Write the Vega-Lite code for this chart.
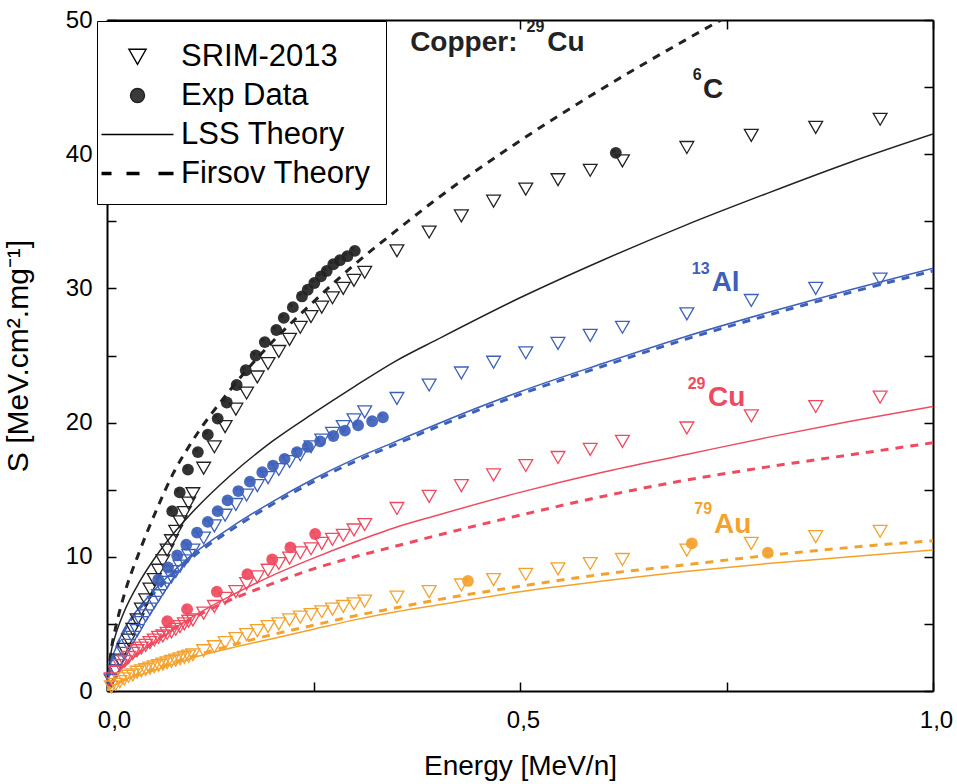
{
  "$schema": "https://vega.github.io/schema/vega-lite/v6.json",
  "width": 826,
  "height": 671,
  "autosize": {"type": "none"},
  "padding": {"left": 107, "top": 20, "right": 24, "bottom": 93},
  "background": "white",
  "datasets": {
    "srim": [
      {"ion":"C","x":0.0052,"y":0.8},{"ion":"C","x":0.0104,"y":1.5},{"ion":"C","x":0.0156,"y":2.3},{"ion":"C","x":0.0208,"y":3.1},{"ion":"C","x":0.026,"y":3.8},{"ion":"C","x":0.0312,"y":4.6},{"ion":"C","x":0.0364,"y":5.3},{"ion":"C","x":0.0416,"y":6.1},{"ion":"C","x":0.0468,"y":6.8},{"ion":"C","x":0.052,"y":7.6},
      {"ion":"C","x":0.0572,"y":8.3},{"ion":"C","x":0.0624,"y":9.0},{"ion":"C","x":0.0676,"y":9.7},{"ion":"C","x":0.0728,"y":10.5},{"ion":"C","x":0.078,"y":11.2},{"ion":"C","x":0.0832,"y":11.9},{"ion":"C","x":0.0884,"y":12.6},{"ion":"C","x":0.0936,"y":13.3},{"ion":"C","x":0.0988,"y":14.0},{"ion":"C","x":0.104,"y":14.7},
      {"ion":"C","x":0.117,"y":16.6},{"ion":"C","x":0.13,"y":18.2},{"ion":"C","x":0.143,"y":19.7},{"ion":"C","x":0.156,"y":21.0},{"ion":"C","x":0.169,"y":22.2},{"ion":"C","x":0.182,"y":23.4},{"ion":"C","x":0.195,"y":24.4},{"ion":"C","x":0.208,"y":25.3},{"ion":"C","x":0.221,"y":26.2},{"ion":"C","x":0.234,"y":27.1},{"ion":"C","x":0.247,"y":27.9},{"ion":"C","x":0.26,"y":28.6},{"ion":"C","x":0.273,"y":29.3},{"ion":"C","x":0.286,"y":30.0},{"ion":"C","x":0.299,"y":30.6},{"ion":"C","x":0.312,"y":31.2},
      {"ion":"C","x":0.351,"y":32.8},{"ion":"C","x":0.39,"y":34.2},{"ion":"C","x":0.429,"y":35.4},{"ion":"C","x":0.468,"y":36.5},{"ion":"C","x":0.507,"y":37.4},{"ion":"C","x":0.546,"y":38.1},{"ion":"C","x":0.585,"y":38.8},{"ion":"C","x":0.624,"y":39.5},{"ion":"C","x":0.702,"y":40.5},{"ion":"C","x":0.78,"y":41.4},{"ion":"C","x":0.858,"y":42.0},{"ion":"C","x":0.936,"y":42.6},

      {"ion":"Al","x":0.0052,"y":0.8},{"ion":"Al","x":0.0104,"y":1.5},{"ion":"Al","x":0.0156,"y":2.2},{"ion":"Al","x":0.0208,"y":2.8},{"ion":"Al","x":0.026,"y":3.4},{"ion":"Al","x":0.0312,"y":4.0},{"ion":"Al","x":0.0364,"y":4.5},{"ion":"Al","x":0.0416,"y":5.1},{"ion":"Al","x":0.0468,"y":5.6},{"ion":"Al","x":0.052,"y":6.1},
      {"ion":"Al","x":0.0572,"y":6.6},{"ion":"Al","x":0.0624,"y":7.1},{"ion":"Al","x":0.0676,"y":7.6},{"ion":"Al","x":0.0728,"y":8.1},{"ion":"Al","x":0.078,"y":8.5},{"ion":"Al","x":0.0832,"y":8.9},{"ion":"Al","x":0.0884,"y":9.3},{"ion":"Al","x":0.0936,"y":9.7},{"ion":"Al","x":0.0988,"y":10.1},{"ion":"Al","x":0.104,"y":10.5},
      {"ion":"Al","x":0.117,"y":11.4},{"ion":"Al","x":0.13,"y":12.3},{"ion":"Al","x":0.143,"y":13.1},{"ion":"Al","x":0.156,"y":13.9},{"ion":"Al","x":0.169,"y":14.6},{"ion":"Al","x":0.182,"y":15.3},{"ion":"Al","x":0.195,"y":15.9},{"ion":"Al","x":0.208,"y":16.5},{"ion":"Al","x":0.221,"y":17.1},{"ion":"Al","x":0.234,"y":17.6},{"ion":"Al","x":0.247,"y":18.2},{"ion":"Al","x":0.26,"y":18.7},{"ion":"Al","x":0.273,"y":19.2},{"ion":"Al","x":0.286,"y":19.7},{"ion":"Al","x":0.299,"y":20.2},{"ion":"Al","x":0.312,"y":20.8},
      {"ion":"Al","x":0.351,"y":21.8},{"ion":"Al","x":0.39,"y":22.8},{"ion":"Al","x":0.429,"y":23.7},{"ion":"Al","x":0.468,"y":24.5},{"ion":"Al","x":0.507,"y":25.2},{"ion":"Al","x":0.546,"y":25.9},{"ion":"Al","x":0.585,"y":26.5},{"ion":"Al","x":0.624,"y":27.1},{"ion":"Al","x":0.702,"y":28.1},{"ion":"Al","x":0.78,"y":29.1},{"ion":"Al","x":0.858,"y":30.0},{"ion":"Al","x":0.936,"y":30.7},

      {"ion":"Cu","x":0.0052,"y":0.9},{"ion":"Cu","x":0.0104,"y":1.4},{"ion":"Cu","x":0.0156,"y":1.9},{"ion":"Cu","x":0.0208,"y":2.2},{"ion":"Cu","x":0.026,"y":2.5},{"ion":"Cu","x":0.0312,"y":2.8},{"ion":"Cu","x":0.0364,"y":3.0},{"ion":"Cu","x":0.0416,"y":3.2},{"ion":"Cu","x":0.0468,"y":3.4},{"ion":"Cu","x":0.052,"y":3.6},
      {"ion":"Cu","x":0.0572,"y":3.8},{"ion":"Cu","x":0.0624,"y":4.0},{"ion":"Cu","x":0.0676,"y":4.1},{"ion":"Cu","x":0.0728,"y":4.3},{"ion":"Cu","x":0.078,"y":4.4},{"ion":"Cu","x":0.0832,"y":4.6},{"ion":"Cu","x":0.0884,"y":4.8},{"ion":"Cu","x":0.0936,"y":5.0},{"ion":"Cu","x":0.0988,"y":5.2},{"ion":"Cu","x":0.104,"y":5.3},
      {"ion":"Cu","x":0.117,"y":5.8},{"ion":"Cu","x":0.13,"y":6.3},{"ion":"Cu","x":0.143,"y":6.9},{"ion":"Cu","x":0.156,"y":7.4},{"ion":"Cu","x":0.169,"y":8.0},{"ion":"Cu","x":0.182,"y":8.5},{"ion":"Cu","x":0.195,"y":9.0},{"ion":"Cu","x":0.208,"y":9.5},{"ion":"Cu","x":0.221,"y":9.9},{"ion":"Cu","x":0.234,"y":10.3},{"ion":"Cu","x":0.247,"y":10.6},{"ion":"Cu","x":0.26,"y":11.0},{"ion":"Cu","x":0.273,"y":11.3},{"ion":"Cu","x":0.286,"y":11.6},{"ion":"Cu","x":0.299,"y":12.0},{"ion":"Cu","x":0.312,"y":12.4},
      {"ion":"Cu","x":0.351,"y":13.6},{"ion":"Cu","x":0.39,"y":14.5},{"ion":"Cu","x":0.429,"y":15.3},{"ion":"Cu","x":0.468,"y":16.1},{"ion":"Cu","x":0.507,"y":16.8},{"ion":"Cu","x":0.546,"y":17.4},{"ion":"Cu","x":0.585,"y":18.0},{"ion":"Cu","x":0.624,"y":18.6},{"ion":"Cu","x":0.702,"y":19.6},{"ion":"Cu","x":0.78,"y":20.5},{"ion":"Cu","x":0.858,"y":21.2},{"ion":"Cu","x":0.936,"y":21.9},

      {"ion":"Au","x":0.0052,"y":0.3},{"ion":"Au","x":0.0104,"y":0.5},{"ion":"Au","x":0.0156,"y":0.7},{"ion":"Au","x":0.0208,"y":0.9},{"ion":"Au","x":0.026,"y":1.1},{"ion":"Au","x":0.0312,"y":1.2},{"ion":"Au","x":0.0364,"y":1.4},{"ion":"Au","x":0.0416,"y":1.5},{"ion":"Au","x":0.0468,"y":1.6},{"ion":"Au","x":0.052,"y":1.7},
      {"ion":"Au","x":0.0572,"y":1.8},{"ion":"Au","x":0.0624,"y":1.9},{"ion":"Au","x":0.0676,"y":2.0},{"ion":"Au","x":0.0728,"y":2.1},{"ion":"Au","x":0.078,"y":2.2},{"ion":"Au","x":0.0832,"y":2.3},{"ion":"Au","x":0.0884,"y":2.4},{"ion":"Au","x":0.0936,"y":2.5},{"ion":"Au","x":0.0988,"y":2.6},{"ion":"Au","x":0.104,"y":2.7},
      {"ion":"Au","x":0.117,"y":3.0},{"ion":"Au","x":0.13,"y":3.3},{"ion":"Au","x":0.143,"y":3.6},{"ion":"Au","x":0.156,"y":3.9},{"ion":"Au","x":0.169,"y":4.2},{"ion":"Au","x":0.182,"y":4.5},{"ion":"Au","x":0.195,"y":4.8},{"ion":"Au","x":0.208,"y":5.0},{"ion":"Au","x":0.221,"y":5.3},{"ion":"Au","x":0.234,"y":5.5},{"ion":"Au","x":0.247,"y":5.7},{"ion":"Au","x":0.26,"y":5.9},{"ion":"Au","x":0.273,"y":6.1},{"ion":"Au","x":0.286,"y":6.3},{"ion":"Au","x":0.299,"y":6.5},{"ion":"Au","x":0.312,"y":6.7},
      {"ion":"Au","x":0.351,"y":7.0},{"ion":"Au","x":0.39,"y":7.4},{"ion":"Au","x":0.429,"y":7.9},{"ion":"Au","x":0.468,"y":8.3},{"ion":"Au","x":0.507,"y":8.7},{"ion":"Au","x":0.546,"y":9.1},{"ion":"Au","x":0.585,"y":9.5},{"ion":"Au","x":0.624,"y":9.8},{"ion":"Au","x":0.702,"y":10.5},{"ion":"Au","x":0.78,"y":11.0},{"ion":"Au","x":0.858,"y":11.5},{"ion":"Au","x":0.936,"y":11.9}
    ],
    "exp": [
      {"ion":"C","x":0.079,"y":13.4},{"ion":"C","x":0.088,"y":14.8},{"ion":"C","x":0.098,"y":16.5},{"ion":"C","x":0.110,"y":17.8},{"ion":"C","x":0.122,"y":19.1},{"ion":"C","x":0.134,"y":20.3},{"ion":"C","x":0.145,"y":21.5},{"ion":"C","x":0.157,"y":22.8},{"ion":"C","x":0.168,"y":23.9},{"ion":"C","x":0.180,"y":25.0},{"ion":"C","x":0.191,"y":26.0},{"ion":"C","x":0.205,"y":26.9},{"ion":"C","x":0.214,"y":27.8},{"ion":"C","x":0.225,"y":28.6},{"ion":"C","x":0.236,"y":29.4},{"ion":"C","x":0.243,"y":29.9},{"ion":"C","x":0.251,"y":30.4},{"ion":"C","x":0.259,"y":30.9},{"ion":"C","x":0.266,"y":31.3},{"ion":"C","x":0.274,"y":31.8},{"ion":"C","x":0.282,"y":32.1},{"ion":"C","x":0.291,"y":32.4},{"ion":"C","x":0.300,"y":32.8},{"ion":"C","x":0.616,"y":40.1},
      {"ion":"Al","x":0.062,"y":8.3},{"ion":"Al","x":0.074,"y":9.2},{"ion":"Al","x":0.085,"y":10.1},{"ion":"Al","x":0.096,"y":10.9},{"ion":"Al","x":0.109,"y":11.8},{"ion":"Al","x":0.122,"y":12.6},{"ion":"Al","x":0.134,"y":13.4},{"ion":"Al","x":0.146,"y":14.2},{"ion":"Al","x":0.159,"y":14.9},{"ion":"Al","x":0.173,"y":15.6},{"ion":"Al","x":0.188,"y":16.3},{"ion":"Al","x":0.201,"y":16.8},{"ion":"Al","x":0.215,"y":17.3},{"ion":"Al","x":0.230,"y":17.8},{"ion":"Al","x":0.243,"y":18.2},{"ion":"Al","x":0.258,"y":18.6},{"ion":"Al","x":0.274,"y":19.0},{"ion":"Al","x":0.288,"y":19.4},{"ion":"Al","x":0.304,"y":19.8},{"ion":"Al","x":0.321,"y":20.1},{"ion":"Al","x":0.334,"y":20.4},
      {"ion":"Cu","x":0.073,"y":5.2},{"ion":"Cu","x":0.097,"y":6.1},{"ion":"Cu","x":0.133,"y":7.4},{"ion":"Cu","x":0.170,"y":8.7},{"ion":"Cu","x":0.200,"y":9.8},{"ion":"Cu","x":0.222,"y":10.7},{"ion":"Cu","x":0.252,"y":11.7},
      {"ion":"Au","x":0.437,"y":8.2},{"ion":"Au","x":0.708,"y":11.0},{"ion":"Au","x":0.80,"y":10.3}
    ],
    "theory": [
      {"ion":"C","model":"LSS","x":0,"y":0},{"ion":"C","model":"LSS","x":0.005,"y":2.9},{"ion":"C","model":"LSS","x":0.01,"y":4.1},{"ion":"C","model":"LSS","x":0.02,"y":5.8},{"ion":"C","model":"LSS","x":0.04,"y":8.2},{"ion":"C","model":"LSS","x":0.06,"y":10.1},{"ion":"C","model":"LSS","x":0.08,"y":11.7},{"ion":"C","model":"LSS","x":0.1,"y":13.1},{"ion":"C","model":"LSS","x":0.15,"y":16.1},{"ion":"C","model":"LSS","x":0.2,"y":18.6},{"ion":"C","model":"LSS","x":0.25,"y":20.7},{"ion":"C","model":"LSS","x":0.3,"y":22.7},{"ion":"C","model":"LSS","x":0.35,"y":24.6},{"ion":"C","model":"LSS","x":0.4,"y":26.2},{"ion":"C","model":"LSS","x":0.5,"y":29.3},{"ion":"C","model":"LSS","x":0.6,"y":32.1},{"ion":"C","model":"LSS","x":0.7,"y":34.7},{"ion":"C","model":"LSS","x":0.8,"y":37.1},{"ion":"C","model":"LSS","x":0.9,"y":39.4},{"ion":"C","model":"LSS","x":1.0,"y":41.5},
      {"ion":"C","model":"Firsov","x":0,"y":0},{"ion":"C","model":"Firsov","x":0.005,"y":3.0},{"ion":"C","model":"Firsov","x":0.01,"y":4.6},{"ion":"C","model":"Firsov","x":0.02,"y":7.0},{"ion":"C","model":"Firsov","x":0.04,"y":10.5},{"ion":"C","model":"Firsov","x":0.06,"y":13.5},{"ion":"C","model":"Firsov","x":0.08,"y":16.2},{"ion":"C","model":"Firsov","x":0.1,"y":18.3},{"ion":"C","model":"Firsov","x":0.15,"y":22.5},{"ion":"C","model":"Firsov","x":0.2,"y":26.0},{"ion":"C","model":"Firsov","x":0.25,"y":29.0},{"ion":"C","model":"Firsov","x":0.3,"y":31.8},{"ion":"C","model":"Firsov","x":0.35,"y":34.3},{"ion":"C","model":"Firsov","x":0.4,"y":36.7},{"ion":"C","model":"Firsov","x":0.5,"y":41.0},{"ion":"C","model":"Firsov","x":0.6,"y":44.9},{"ion":"C","model":"Firsov","x":0.7,"y":48.5},{"ion":"C","model":"Firsov","x":0.8,"y":51.9},{"ion":"C","model":"Firsov","x":0.9,"y":55.0},{"ion":"C","model":"Firsov","x":1.0,"y":58.0},
      {"ion":"Al","model":"LSS","x":0,"y":0},{"ion":"Al","model":"LSS","x":0.005,"y":2.2},{"ion":"Al","model":"LSS","x":0.01,"y":3.1},{"ion":"Al","model":"LSS","x":0.02,"y":4.5},{"ion":"Al","model":"LSS","x":0.04,"y":6.3},{"ion":"Al","model":"LSS","x":0.06,"y":7.7},{"ion":"Al","model":"LSS","x":0.08,"y":8.9},{"ion":"Al","model":"LSS","x":0.1,"y":10.0},{"ion":"Al","model":"LSS","x":0.15,"y":12.2},{"ion":"Al","model":"LSS","x":0.2,"y":14.1},{"ion":"Al","model":"LSS","x":0.25,"y":15.8},{"ion":"Al","model":"LSS","x":0.3,"y":17.3},{"ion":"Al","model":"LSS","x":0.35,"y":18.6},{"ion":"Al","model":"LSS","x":0.4,"y":19.9},{"ion":"Al","model":"LSS","x":0.5,"y":22.3},{"ion":"Al","model":"LSS","x":0.6,"y":24.4},{"ion":"Al","model":"LSS","x":0.7,"y":26.4},{"ion":"Al","model":"LSS","x":0.8,"y":28.2},{"ion":"Al","model":"LSS","x":0.9,"y":29.9},{"ion":"Al","model":"LSS","x":1.0,"y":31.5},
      {"ion":"Al","model":"Firsov","x":0,"y":0},{"ion":"Al","model":"Firsov","x":0.005,"y":2.1},{"ion":"Al","model":"Firsov","x":0.01,"y":3.0},{"ion":"Al","model":"Firsov","x":0.02,"y":4.4},{"ion":"Al","model":"Firsov","x":0.04,"y":6.2},{"ion":"Al","model":"Firsov","x":0.06,"y":7.5},{"ion":"Al","model":"Firsov","x":0.08,"y":8.7},{"ion":"Al","model":"Firsov","x":0.1,"y":9.8},{"ion":"Al","model":"Firsov","x":0.15,"y":12.0},{"ion":"Al","model":"Firsov","x":0.2,"y":13.9},{"ion":"Al","model":"Firsov","x":0.25,"y":15.6},{"ion":"Al","model":"Firsov","x":0.3,"y":17.1},{"ion":"Al","model":"Firsov","x":0.35,"y":18.4},{"ion":"Al","model":"Firsov","x":0.4,"y":19.7},{"ion":"Al","model":"Firsov","x":0.5,"y":22.1},{"ion":"Al","model":"Firsov","x":0.6,"y":24.2},{"ion":"Al","model":"Firsov","x":0.7,"y":26.2},{"ion":"Al","model":"Firsov","x":0.8,"y":28.0},{"ion":"Al","model":"Firsov","x":0.9,"y":29.7},{"ion":"Al","model":"Firsov","x":1.0,"y":31.3},
      {"ion":"Cu","model":"LSS","x":0,"y":0},{"ion":"Cu","model":"LSS","x":0.005,"y":0.7},{"ion":"Cu","model":"LSS","x":0.01,"y":1.1},{"ion":"Cu","model":"LSS","x":0.02,"y":1.8},{"ion":"Cu","model":"LSS","x":0.04,"y":2.9},{"ion":"Cu","model":"LSS","x":0.06,"y":3.7},{"ion":"Cu","model":"LSS","x":0.08,"y":4.6},{"ion":"Cu","model":"LSS","x":0.1,"y":5.4},{"ion":"Cu","model":"LSS","x":0.15,"y":7.1},{"ion":"Cu","model":"LSS","x":0.2,"y":8.6},{"ion":"Cu","model":"LSS","x":0.25,"y":9.9},{"ion":"Cu","model":"LSS","x":0.3,"y":11.1},{"ion":"Cu","model":"LSS","x":0.35,"y":12.2},{"ion":"Cu","model":"LSS","x":0.4,"y":13.1},{"ion":"Cu","model":"LSS","x":0.5,"y":14.8},{"ion":"Cu","model":"LSS","x":0.6,"y":16.3},{"ion":"Cu","model":"LSS","x":0.7,"y":17.6},{"ion":"Cu","model":"LSS","x":0.8,"y":18.9},{"ion":"Cu","model":"LSS","x":0.9,"y":20.1},{"ion":"Cu","model":"LSS","x":1.0,"y":21.2},
      {"ion":"Cu","model":"Firsov","x":0,"y":0},{"ion":"Cu","model":"Firsov","x":0.005,"y":0.7},{"ion":"Cu","model":"Firsov","x":0.01,"y":1.1},{"ion":"Cu","model":"Firsov","x":0.02,"y":1.8},{"ion":"Cu","model":"Firsov","x":0.04,"y":2.9},{"ion":"Cu","model":"Firsov","x":0.06,"y":3.8},{"ion":"Cu","model":"Firsov","x":0.08,"y":4.6},{"ion":"Cu","model":"Firsov","x":0.1,"y":5.3},{"ion":"Cu","model":"Firsov","x":0.15,"y":6.8},{"ion":"Cu","model":"Firsov","x":0.2,"y":8.0},{"ion":"Cu","model":"Firsov","x":0.25,"y":9.1},{"ion":"Cu","model":"Firsov","x":0.3,"y":10.0},{"ion":"Cu","model":"Firsov","x":0.35,"y":10.8},{"ion":"Cu","model":"Firsov","x":0.4,"y":11.6},{"ion":"Cu","model":"Firsov","x":0.5,"y":13.1},{"ion":"Cu","model":"Firsov","x":0.6,"y":14.5},{"ion":"Cu","model":"Firsov","x":0.7,"y":15.7},{"ion":"Cu","model":"Firsov","x":0.8,"y":16.7},{"ion":"Cu","model":"Firsov","x":0.9,"y":17.6},{"ion":"Cu","model":"Firsov","x":1.0,"y":18.5},
      {"ion":"Au","model":"LSS","x":0,"y":0},{"ion":"Au","model":"LSS","x":0.005,"y":0.3},{"ion":"Au","model":"LSS","x":0.01,"y":0.5},{"ion":"Au","model":"LSS","x":0.02,"y":0.8},{"ion":"Au","model":"LSS","x":0.04,"y":1.2},{"ion":"Au","model":"LSS","x":0.06,"y":1.6},{"ion":"Au","model":"LSS","x":0.08,"y":2.0},{"ion":"Au","model":"LSS","x":0.1,"y":2.4},{"ion":"Au","model":"LSS","x":0.15,"y":3.2},{"ion":"Au","model":"LSS","x":0.2,"y":3.9},{"ion":"Au","model":"LSS","x":0.25,"y":4.6},{"ion":"Au","model":"LSS","x":0.3,"y":5.3},{"ion":"Au","model":"LSS","x":0.35,"y":5.9},{"ion":"Au","model":"LSS","x":0.4,"y":6.4},{"ion":"Au","model":"LSS","x":0.5,"y":7.4},{"ion":"Au","model":"LSS","x":0.6,"y":8.2},{"ion":"Au","model":"LSS","x":0.7,"y":8.9},{"ion":"Au","model":"LSS","x":0.8,"y":9.5},{"ion":"Au","model":"LSS","x":0.9,"y":10.0},{"ion":"Au","model":"LSS","x":1.0,"y":10.5},
      {"ion":"Au","model":"Firsov","x":0,"y":0},{"ion":"Au","model":"Firsov","x":0.005,"y":0.3},{"ion":"Au","model":"Firsov","x":0.01,"y":0.5},{"ion":"Au","model":"Firsov","x":0.02,"y":0.8},{"ion":"Au","model":"Firsov","x":0.04,"y":1.3},{"ion":"Au","model":"Firsov","x":0.06,"y":1.7},{"ion":"Au","model":"Firsov","x":0.08,"y":2.1},{"ion":"Au","model":"Firsov","x":0.1,"y":2.5},{"ion":"Au","model":"Firsov","x":0.15,"y":3.4},{"ion":"Au","model":"Firsov","x":0.2,"y":4.2},{"ion":"Au","model":"Firsov","x":0.25,"y":4.9},{"ion":"Au","model":"Firsov","x":0.3,"y":5.6},{"ion":"Au","model":"Firsov","x":0.35,"y":6.2},{"ion":"Au","model":"Firsov","x":0.4,"y":6.8},{"ion":"Au","model":"Firsov","x":0.5,"y":7.8},{"ion":"Au","model":"Firsov","x":0.6,"y":8.7},{"ion":"Au","model":"Firsov","x":0.7,"y":9.4},{"ion":"Au","model":"Firsov","x":0.8,"y":10.1},{"ion":"Au","model":"Firsov","x":0.9,"y":10.7},{"ion":"Au","model":"Firsov","x":1.0,"y":11.2}
    ],
    "labels": [
      {"ion":"C","role":"main","x":0.367,"y":47.7,"text":"Copper:"},
      {"ion":"C","role":"sup","x":0.508,"y":49.1,"text":"29"},
      {"ion":"C","role":"main","x":0.533,"y":47.7,"text":"Cu"},
      {"ion":"C","role":"sup","x":0.709,"y":45.5,"text":"6"},
      {"ion":"C","role":"main","x":0.7215,"y":44.2,"text":"C"},
      {"ion":"Al","role":"sup","x":0.708,"y":31.1,"text":"13"},
      {"ion":"Al","role":"main","x":0.732,"y":29.8,"text":"Al"},
      {"ion":"Cu","role":"sup","x":0.703,"y":22.5,"text":"29"},
      {"ion":"Cu","role":"main","x":0.7276,"y":21.2,"text":"Cu"},
      {"ion":"Au","role":"sup","x":0.711,"y":13.2,"text":"79"},
      {"ion":"Au","role":"main","x":0.735,"y":11.8,"text":"Au"}
    ],
    "legendItems": [
      {"kind":"SRIM-2013"},{"kind":"Exp Data"},{"kind":"LSS Theory"},{"kind":"Firsov Theory"}
    ]
  },
  "layer": [
    {
      "encoding": {
        "x": {"field":"x","type":"quantitative","scale":{"domain":[0,1],"nice":false,"zero":false},
          "axis": {"orient":"bottom","values":[0,0.25,0.5,0.75,1],"labelExpr":"(datum.value*4)%2==1 ? '' : replace(format(datum.value,'.1f'),'.',',')","title":"Energy [MeV/n]","labelPadding":26,"titlePadding":20,
            "labelOffset":{"condition":{"test":"datum.value == 0","value":7},"value":3}}},
        "y": {"field":"y","type":"quantitative","scale":{"domain":[0,50],"nice":false,"zero":false},
          "axis": {"orient":"left","values":[0,5,10,15,20,25,30,35,40,45,50],"labelExpr":"datum.value%10==0 ? datum.label : ''","title":"S [MeV.cm².mg⁻¹]","labelPadding":24,"titlePadding":32,"titleFontSize":30}},
        "color": {"field":"ion","type":"nominal","scale":{"domain":["C","Al","Cu","Au"],"range":["#222222","#3d60ba","#f04a60","#f4a22e"]},"legend":null}
      },
      "layer": [
        {"data":{"name":"theory"},"transform":[{"filter":"datum.model=='LSS'"}],
         "mark":{"type":"line","strokeWidth":1.5,"interpolate":"monotone","clip":true},
         "encoding":{"detail":{"field":"ion"},"order":{"field":"x","type":"quantitative"}}},
        {"data":{"name":"theory"},"transform":[{"filter":"datum.model=='Firsov'"}],
         "mark":{"type":"line","strokeWidth":3,"strokeDash":[8,7],"interpolate":"monotone","clip":true},
         "encoding":{"detail":{"field":"ion"},"order":{"field":"x","type":"quantitative"}}},
        {"data":{"name":"srim"},
         "mark":{"type":"point","shape":"triangle-down","filled":false,"size":190,"strokeWidth":1.3,"opacity":1}},
        {"data":{"name":"exp"},
         "mark":{"type":"point","shape":"circle","filled":true,"size":140,"opacity":0.92}},
        {"data":{"name":"exp"},
         "mark":{"type":"point","shape":"circle","filled":true,"size":16,"color":"white","opacity":0.7,"xOffset":-2,"yOffset":-2}},
        {"data":{"name":"labels"},"transform":[{"filter":"datum.role=='main'"}],
         "mark":{"type":"text","align":"left","baseline":"alphabetic","font":"Liberation Sans","fontWeight":"bold","fontSize":28},
         "encoding":{"text":{"field":"text"}}},
        {"data":{"name":"labels"},"transform":[{"filter":"datum.role=='sup'"}],
         "mark":{"type":"text","align":"left","baseline":"alphabetic","font":"Liberation Sans","fontWeight":"bold","fontSize":16},
         "encoding":{"text":{"field":"text"}}},
        {"data":{"name":"legendItems"},
         "mark":{"type":"point","clip":true,"size":1521,"filled":false,"strokeWidth":1.4},
         "encoding":{
           "x":{"datum":-5},
           "y":{"datum":25},
           "color":null,
           "shape":{"field":"kind","type":"nominal",
             "scale":{"domain":["SRIM-2013","Exp Data","LSS Theory","Firsov Theory"],
               "range":["M-0.44,-0.37L0.44,-0.37L0,0.4Z","M-0.36,0A0.36,0.36,0,1,0,0.36,0A0.36,0.36,0,1,0,-0.36,0Z","M-1.846,-0.038H1.846V0.038H-1.846Z","M-1.846,-0.087H-1.333V0.087H-1.846ZM-0.564,-0.087H0.103V0.087H-0.564ZM1.077,-0.087H1.846V0.087H1.077Z"]},
             "legend":{"title":null,"orient":"none","legendX":-10,"legendY":1,"padding":15,"strokeColor":"black","fillColor":"white",
               "labelFont":"Liberation Sans","labelFontSize":31,"labelColor":"black","labelOffset":23,"rowPadding":3,"symbolSize":1521,"symbolOffset":5,"symbolStrokeWidth":1.4,"symbolOpacity":1,"labelLimit":400}},
           "fill":{"field":"kind","type":"nominal",
             "scale":{"domain":["SRIM-2013","Exp Data","LSS Theory","Firsov Theory"],"range":["transparent","#3a3a3a","black","black"]}},
           "stroke":{"field":"kind","type":"nominal",
             "scale":{"domain":["SRIM-2013","Exp Data","LSS Theory","Firsov Theory"],"range":["black","#222222","transparent","transparent"]}}
         }}
      ]
    },
    {
      "data":{"name":"legendItems"},
      "mark":{"type":"point","opacity":0},
      "encoding":{
        "x":{"datum":0.5,"type":"quantitative","scale":{"domain":[0,1],"nice":false,"zero":false},
          "axis":{"orient":"top","values":[0,0.25,0.5,0.75,1],"labels":false,"title":null}},
        "y":{"datum":25,"type":"quantitative","scale":{"domain":[0,50],"nice":false,"zero":false},
          "axis":{"orient":"right","values":[0,5,10,15,20,25,30,35,40,45,50],"labels":false,"title":null}}
      }
    }
  ],
  "resolve": {"axis": {"x":"independent","y":"independent"}},
  "config": {
    "view": {"stroke": null},
    "font": "Liberation Sans",
    "axis": {"grid": false, "domainColor": "black", "domainWidth": 2, "tickColor": "black", "tickWidth": 1.5, "tickSize": -9,
      "labelColor": "black", "titleColor": "black", "labelFontSize": 24, "titleFontSize": 28, "titleFontWeight": "normal",
      "labelFont": "Liberation Sans", "titleFont": "Liberation Sans", "labelFlush": false, "labelOverlap": false}
  }
}
